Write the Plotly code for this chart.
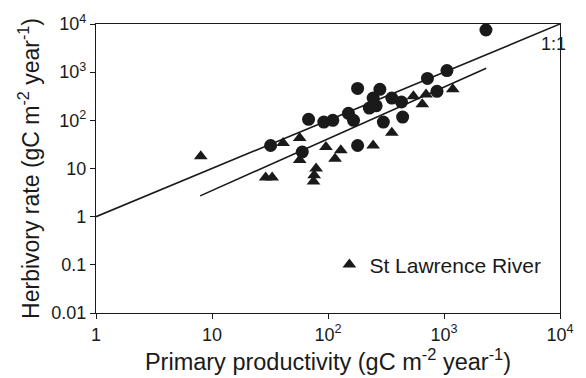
import plotly.graph_objects as go

# Circles (other systems)
circle_x = [32, 60, 68, 92, 110, 150, 166, 180, 280, 245, 227, 260, 355, 430, 440, 300, 180, 720, 870, 1060, 2300]
circle_y = [30, 22, 105, 92, 100, 140, 100, 460, 440, 290, 180, 200, 290, 240, 117, 92, 30, 740, 400, 1080, 7500]

# Triangles (St Lawrence River)
tri_x = [8, 29, 33, 41, 57, 57, 75, 76, 79, 96, 115, 129, 245, 355, 545, 650, 700, 1190]
tri_y = [18, 6.5, 6.5, 34, 43, 15, 5.4, 7.2, 10, 28, 16, 24, 30, 55, 315, 215, 345, 440]

# Lines
one_x = [1, 10000]
one_y = [1, 10000]
fit_x = [7.9, 2313]
fit_y = [2.7, 1200]

x_tickvals = [1, 10, 100, 1000, 10000]
x_ticktext = ["1", "10", "10<sup>2</sup>", "10<sup>3</sup>", "10<sup>4</sup>"]
y_tickvals = [0.01, 0.1, 1, 10, 100, 1000, 10000]
y_ticktext = ["0.01", "0.1", "1", "10", "10<sup>2</sup>", "10<sup>3</sup>", "10<sup>4</sup>"]

FONT = "Liberation Sans, Arial, sans-serif"
INK = "#1a1a1a"

fig = go.Figure()
fig.add_trace(go.Scatter(x=one_x, y=one_y, mode="lines",
                         line=dict(color=INK, width=1.6), showlegend=False, hoverinfo="skip"))
fig.add_trace(go.Scatter(x=fit_x, y=fit_y, mode="lines",
                         line=dict(color=INK, width=1.6), showlegend=False, hoverinfo="skip"))
fig.add_trace(go.Scatter(x=circle_x, y=circle_y, mode="markers",
                         marker=dict(symbol="circle", size=13, color=INK, line=dict(width=0)),
                         showlegend=False))
fig.add_trace(go.Scatter(x=tri_x, y=tri_y, mode="markers", name="St Lawrence River",
                         marker=dict(symbol="triangle-up", size=12, color=INK, line=dict(width=0)),
                         showlegend=True))

fig.add_annotation(x=4, y=3.628, xref="x", yref="y", text="1:1", showarrow=False,
                   xanchor="right", yanchor="middle", xshift=8, yshift=-2,
                   font=dict(family=FONT, size=18, color=INK))

axis_common = dict(showgrid=False, zeroline=False, showline=True, linecolor=INK, linewidth=1.3,
                   mirror=True, ticks="outside", ticklen=5, tickwidth=1.3, tickcolor=INK,
                   tickfont=dict(family=FONT, size=18, color=INK))

fig.update_xaxes(type="log", range=[0, 4], tickvals=x_tickvals, ticktext=x_ticktext,
                 title=dict(text="Primary productivity (gC m<sup>-2</sup> year<sup>-1</sup>)",
                            font=dict(family=FONT, size=23.5, color=INK), standoff=5),
                 **axis_common)
fig.update_yaxes(type="log", range=[-2, 4], tickvals=y_tickvals, ticktext=y_ticktext,
                 title=dict(text="Herbivory rate (gC m<sup>-2</sup> year<sup>-1</sup>)",
                            font=dict(family=FONT, size=23, color=INK), standoff=5),
                 **axis_common)

# overlay axes giving the inward half of the crossing tick marks
fig.update_layout(
    xaxis2=dict(type="log", range=[0, 4], overlaying="x", side="bottom", anchor="y",
                tickvals=x_tickvals, showticklabels=False, ticks="inside", ticklen=4,
                tickwidth=1.3, tickcolor=INK, showgrid=False, zeroline=False, showline=False),
    yaxis2=dict(type="log", range=[-2, 4], overlaying="y", side="left", anchor="x",
                tickvals=y_tickvals, showticklabels=False, ticks="inside", ticklen=4,
                tickwidth=1.3, tickcolor=INK, showgrid=False, zeroline=False, showline=False),
)

fig.update_layout(
    width=586, height=378,
    margin=dict(l=96, r=18, t=22, b=63),
    paper_bgcolor="white", plot_bgcolor="white",
    font=dict(family=FONT, color=INK),
    legend=dict(x=0.503, y=0.167, xanchor="left", yanchor="middle",
                bgcolor="rgba(0,0,0,0)", font=dict(family=FONT, size=21, color=INK),
                itemsizing="trace"),
)

fig.write_html("out.html")
